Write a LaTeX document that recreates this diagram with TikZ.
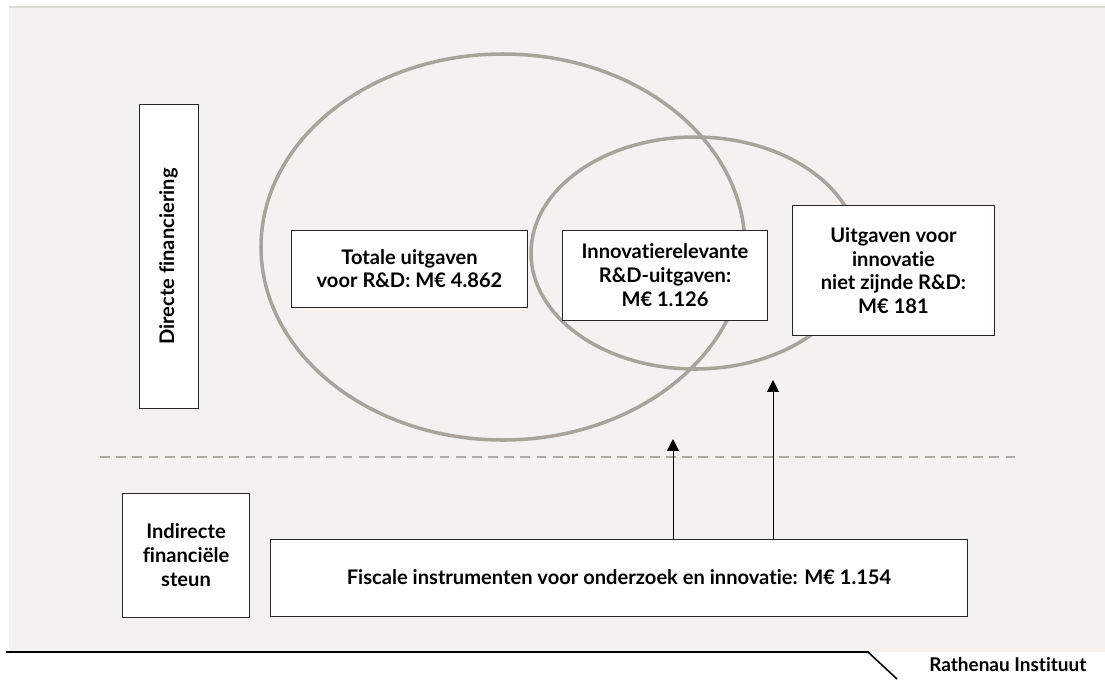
\documentclass[tikz,border=0pt]{standalone}
\usepackage{fontspec}
\setmainfont{Lato}[Ligatures=NoCommon]
\usepackage{tikz}
\usetikzlibrary{arrows.meta,positioning,calc}
\definecolor{panelgrey}{HTML}{F3F2F0}
\definecolor{edgegrey}{HTML}{DCDBD8}
\definecolor{ringgrey}{HTML}{A9A49B}
\definecolor{dashgrey}{HTML}{AEAAA2}

\begin{document}
\begin{tikzpicture}[x=0.025cm, y=-0.025cm,
  every node/.style={font=\bfseries\fontsize{14.3}{16.8}\selectfont},
  infobox/.style={draw=black!85, line width=0.7pt, fill=white, align=center, inner sep=2pt},
  ring/.style={draw=ringgrey, line width=2.5pt},
  uparrow/.style={-{Triangle[width=8.5pt, length=8.5pt]}, line width=0.7pt}]
\useasboundingbox (0,0) rectangle (1105,679);
% panel
\fill[panelgrey] (9,7) rectangle (1105,652);
\draw[edgegrey, line width=0.8pt] (9,7) -- (1105,7);
% sets
\draw[ring] (503,247) ellipse [x radius=242, y radius=193];
\draw[ring] (695,253) ellipse [x radius=164, y radius=116];
% boxes
\node[infobox, rotate=90, minimum width=7.575cm, minimum height=1.475cm] (direct) at (168.5,256.5) {Directe financiering};
\node[infobox, minimum width=5.875cm, minimum height=1.925cm] (total) at (409.5,268.5) {Totale uitgaven\\voor R\&D: M€ 4.862};
\node[infobox, minimum width=5.1cm, minimum height=2.25cm] (relevant) at (665,275) {Innovatierelevante\\R\&D-uitgaven:\\M€ 1.126};
\node[infobox, minimum width=5.025cm, minimum height=3.225cm] (nonrd) at (893.5,270.5) {Uitgaven voor\\innovatie\\niet zijnde R\&D:\\M€ 181};
\draw[dashgrey, line width=1.4pt, dash pattern=on 7pt off 4.5pt] (100,457) -- (1020,457);
\node[infobox, minimum width=3.15cm, minimum height=3.1cm] (indirect) at (186,555) {Indirecte\\financiële\\steun};
\node[infobox, minimum width=17.4cm, minimum height=1.925cm] (fiscal) at (619,577.5) {Fiscale instrumenten voor onderzoek en innovatie: M€ 1.154};
% support arrows
\coordinate (tipA) at (673,439);
\coordinate (tipB) at (773,380);
\draw[uparrow] (fiscal.north -| tipA) -- (tipA);
\draw[uparrow] (fiscal.north -| tipB) -- (tipB);
% footer
\coordinate (footL) at (6,652);
\coordinate (footK) at (868,652);
\coordinate (footE) at (897,679);
\draw[black, line width=1.1pt] (footL) -- (footK) -- (footE);
\node[anchor=west, inner sep=0pt, font=\bfseries\fontsize{13.5}{15}\selectfont] (brand) at (929,665) {Rathenau Instituut};
\end{tikzpicture}
\end{document}
